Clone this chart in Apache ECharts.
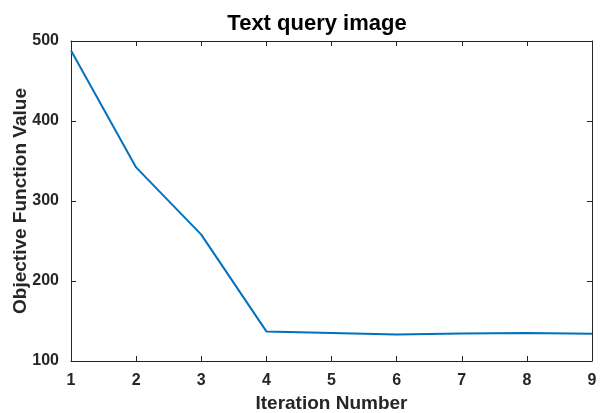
<!DOCTYPE html>
<html><head><meta charset="utf-8">
<script src="https://cdn.jsdelivr.net/npm/echarts@6/dist/echarts.min.js"></script>
<style>html,body{margin:0;padding:0;background:#fff}#c{width:603px;height:413px}</style>
</head><body><div id="c"></div>
<script>
const iterations = [1, 2, 3, 4, 5, 6, 7, 8, 9];
const objectiveValues = [488, 342, 258, 137, 135, 133, 134.5, 135, 134];
const xTicks = [1, 9, 1];
const yTicks = [100, 500, 100];

const data = iterations.map((x, i) => [x, objectiveValues[i]]);
const font = 'Liberation Sans, Arial, sans-serif';
const axisCol = '#262626';
const chart = echarts.init(document.getElementById('c'), null, {renderer: 'canvas'});
const baseX = {
  type: 'value', min: xTicks[0], max: xTicks[1], interval: xTicks[2],
  axisLine: {show: true, lineStyle: {color: axisCol, width: 1}},
  axisTick: {show: true, inside: true, length: 5, lineStyle: {color: axisCol}},
  splitLine: {show: false}
};
const baseY = {
  type: 'value', min: yTicks[0], max: yTicks[1], interval: yTicks[2],
  axisLine: {show: true, lineStyle: {color: axisCol, width: 1}},
  axisTick: {show: true, inside: true, length: 5, lineStyle: {color: axisCol}},
  splitLine: {show: false}
};
chart.setOption({
  animation: false,
  title: {
    text: 'Text query image', left: 312, top: 8, textAlign: 'center',
    textStyle: {fontFamily: font, fontWeight: 'bold', fontSize: 22, color: '#000'}
  },
  grid: {left: 71, right: 11, top: 41, bottom: 52, containLabel: false, outerBoundsMode: 'none'},
  xAxis: [
    Object.assign({}, baseX, {
      position: 'bottom',
      name: 'Iteration Number', nameLocation: 'middle', nameGap: 33, nameMoveOverlap: false,
      nameTextStyle: {fontFamily: font, fontWeight: 'bold', fontSize: 19, color: axisCol},
      axisLabel: {fontFamily: font, fontWeight: 'bold', fontSize: 16, color: axisCol, margin: 12}
    }),
    Object.assign({}, baseX, {position: 'top', axisLabel: {show: false}})
  ],
  yAxis: [
    Object.assign({}, baseY, {
      position: 'left',
      name: 'Objective Function Value', nameLocation: 'middle', nameGap: 41, nameRotate: 90,
      nameMoveOverlap: false,
      nameTextStyle: {fontFamily: font, fontWeight: 'bold', fontSize: 19, color: axisCol},
      axisLabel: {fontFamily: font, fontWeight: 'bold', fontSize: 16, color: axisCol, margin: 12}
    }),
    Object.assign({}, baseY, {position: 'right', axisLabel: {show: false}})
  ],
  series: [{
    type: 'line', data: data, xAxisIndex: 0, yAxisIndex: 0,
    showSymbol: false, symbol: 'none',
    lineStyle: {color: '#0072BD', width: 2}
  }]
});
</script></body></html>
